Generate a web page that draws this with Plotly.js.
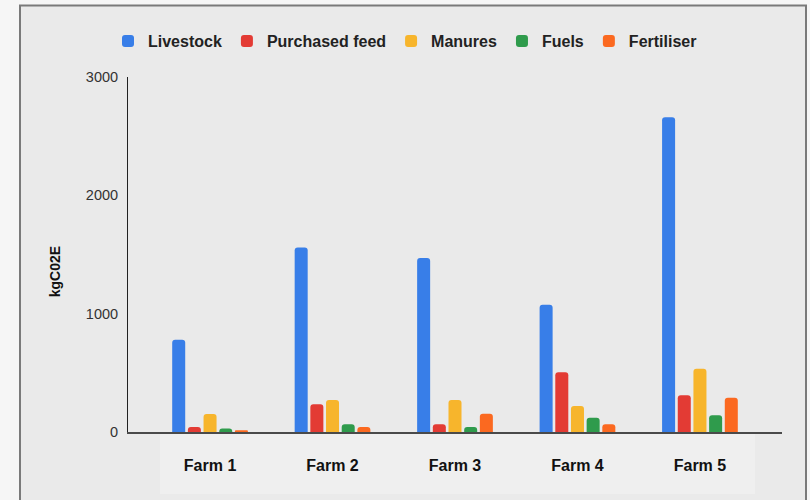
<!DOCTYPE html>
<html>
<head>
<meta charset="utf-8">
<script src="https://cdn.plot.ly/plotly-3.0.1.min.js"></script>
<style>html,body{margin:0;padding:0;background:#f6f6f6;}#chart{width:810px;height:500px;}</style>
</head>
<body>
<div id="chart"></div>
<script>
const farms = ['Farm 1', 'Farm 2', 'Farm 3', 'Farm 4', 'Farm 5'];
const livestock = [780, 1560, 1470, 1075, 2660];
const purchasedFeed = [42, 234, 65, 504, 310];
const manures = [152, 270, 270, 219, 534];
const fuels = [30, 65, 42, 121, 141];
const fertiliser = [15, 42, 155, 65, 290];
const seriesNames = ['Livestock', 'Purchased feed', 'Manures', 'Fuels', 'Fertiliser'];
const seriesColors = ['#387ee8', '#e33b34', '#f7b52c', '#2f9b4c', '#fb6920'];
const seriesValues = [livestock, purchasedFeed, manures, fuels, fertiliser];
const yTicks = [0, 1000, 2000, 3000];

const traces = seriesValues.map((vals, i) => ({
  type: 'bar',
  name: seriesNames[i],
  x: farms,
  y: vals,
  marker: {color: seriesColors[i], cornerradius: 3, line: {width: 0}},
  hoverinfo: 'x+y+name'
}));

// pixel helpers for decorative frame (plot area: x 128..782, y 76.5..432)
const L = 128, R = 782, T = 76.5, B = 432;
const px = v => (v - L) / (R - L);
const py = v => (B - v) / (B - T);

const layout = {
  width: 810, height: 500,
  margin: {l: L, r: 810 - R, t: T, b: 500 - B, pad: 0},
  paper_bgcolor: '#f6f6f6',
  plot_bgcolor: 'rgba(0,0,0,0)',
  font: {family: 'Liberation Sans, Arial, sans-serif', color: '#222'},
  barmode: 'group',
  bargap: 0.36,
  bargroupgap: 0.17,
  showlegend: true,
  legend: {
    orientation: 'h', x: 0.5, xanchor: 'center', xref: 'container',
    y: 1 - 41 / 500, yref: 'container', yanchor: 'middle',
    font: {size: 16, color: '#222', family: 'Liberation Sans, Arial, sans-serif', weight: 'bold'},
    bgcolor: 'rgba(0,0,0,0)', itemclick: false, itemdoubleclick: false
  },
  xaxis: {
    type: 'category',
    range: [-0.67, 4.67],
    showgrid: false, zeroline: false,
    showline: true, linecolor: '#4a4a4a', linewidth: 2,
    ticks: '', ticklabelstandoff: 18,
    tickfont: {size: 16, color: '#111', weight: 'bold'},
    fixedrange: true
  },
  yaxis: {
    range: [0, 3000],
    tickvals: yTicks,
    ticktext: yTicks.map(String),
    showgrid: false, zeroline: false,
    showline: true, linecolor: '#222', linewidth: 1,
    ticks: '', ticklabelstandoff: 6,
    tickfont: {size: 14.5, color: '#333'},
    fixedrange: true
  },
  annotations: [{
    text: 'kgC02E', textangle: -90, showarrow: false,
    xref: 'paper', yref: 'paper', x: px(55), y: py(272),
    xanchor: 'center', yanchor: 'middle',
    font: {size: 14, color: '#111', weight: 'bold'}
  }],
  shapes: [
    {type: 'rect', layer: 'below', xref: 'paper', yref: 'paper',
     x0: px(20), x1: px(806), y0: py(520), y1: py(5),
     fillcolor: '#eaeaea', line: {color: '#7a7a7a', width: 2}},
    {type: 'rect', layer: 'below', xref: 'paper', yref: 'paper',
     x0: px(160), x1: px(755), y0: py(494), y1: py(434),
     fillcolor: '#efefef', line: {width: 0}}
  ]
};

Plotly.newPlot('chart', traces, layout, {displayModeBar: false, staticPlot: true});
</script>
</body>
</html>
